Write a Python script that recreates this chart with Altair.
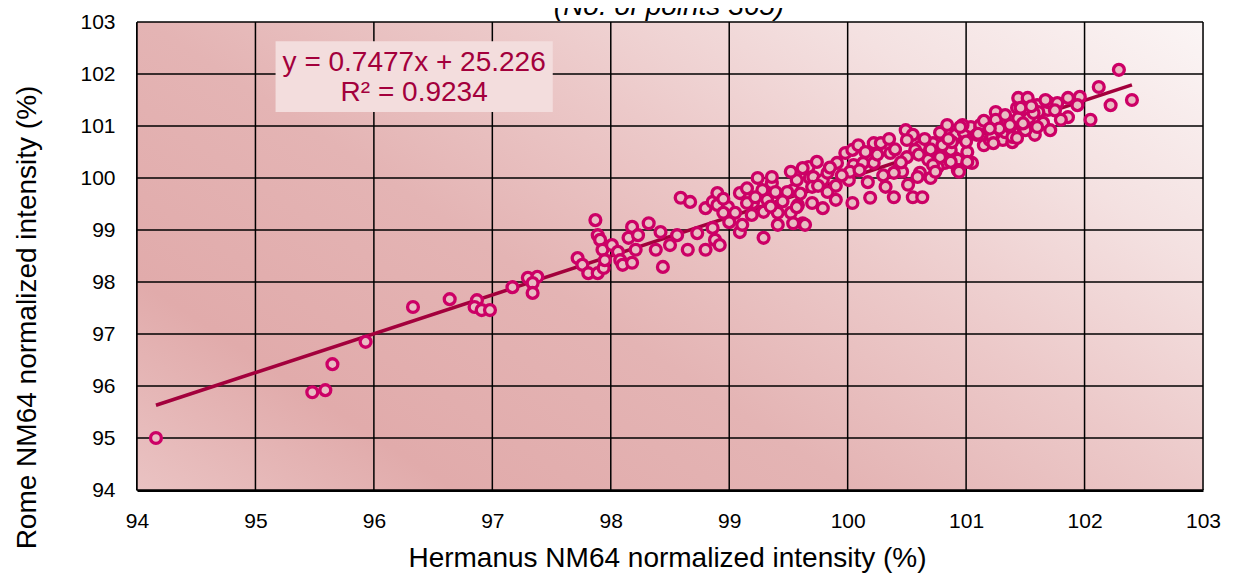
import altair as alt
import pandas as pd

# ---------------- data ----------------
hermanus = [
    94.16, 95.48, 95.59, 95.65, 95.93, 96.33, 96.64, 96.87, 96.85, 96.91, 96.98, 97.17, 97.30, 97.38, 97.34, 97.34,
    97.87, 97.89, 97.91, 97.93, 97.72, 97.76, 97.81, 97.89, 97.94, 97.95, 98.01, 98.06, 98.08, 98.10, 98.18, 98.18,
    98.15, 98.23, 98.32, 98.21, 98.42, 98.38, 98.44, 98.50, 98.56, 98.59, 98.67, 98.65, 98.73, 98.80, 98.80, 98.86,
    98.88, 98.92, 98.86, 98.90, 98.90, 98.99, 98.95, 99.09, 99.09, 99.11, 99.05, 99.20, 99.24, 99.29, 99.29, 99.32,
    99.36, 99.39, 99.41, 99.41, 99.54, 99.57, 99.58, 99.62, 99.68, 99.70, 99.28, 99.15, 99.19, 99.52, 99.64, 99.52,
    99.67, 99.71, 99.74, 99.79, 99.83, 99.79, 99.49, 99.22,
    99.83, 99.90, 99.91, 99.98, 100.04, 100.09, 100.05, 100.01, 100.04, 100.02, 100.17, 100.19, 100.13, 100.22, 100.22,
    100.28, 100.32, 100.36, 100.39, 100.42, 100.46, 100.50, 100.49, 100.55, 100.50, 100.51, 100.55, 100.63, 100.61,
    100.61, 100.68, 100.70, 100.72, 100.78, 100.84, 100.82, 100.91, 100.91, 100.39, 100.57, 100.76, 100.80, 100.87,
    100.93, 100.93, 100.98, 101.05, 101.04, 101.01, 101.15, 101.12, 101.25, 101.26, 101.20, 101.31, 101.33, 101.40,
    101.43, 101.52, 101.58, 101.65, 101.60, 101.69, 101.22, 101.39, 101.44, 101.52, 101.61, 101.69, 101.77, 101.37,
    101.86, 101.86, 101.96, 101.94, 102.05, 102.12, 102.22, 102.29, 102.40, 100.59, 99.70, 99.62, 99.36, 99.54, 99.57,
    100.97, 101.12, 101.09, 100.88, 100.80, 100.78, 100.72, 100.87, 101.01, 100.74, 100.94, 101.23, 101.25, 101.39,
    101.43, 101.37, 101.44, 101.46, 101.53, 101.50, 101.60, 101.67, 101.57, 101.33, 101.71, 101.80,
    99.45, 99.60, 99.35, 99.75, 99.90, 99.95, 100.10, 100.25, 100.30, 100.45, 100.60, 100.65, 100.85, 101.00, 101.10,
    101.15, 101.28, 101.48, 101.55, 101.75, 99.00, 99.15, 98.95, 100.15, 100.35, 100.70, 100.40, 99.85, 100.95, 101.20,
]
rome = [
    95.00, 95.88, 95.92, 96.42, 96.85, 97.52, 97.67, 97.65, 97.52, 97.46, 97.46, 97.90, 98.08, 98.10, 97.98, 97.79,
    99.19, 98.90, 98.81, 98.62, 98.46, 98.33, 98.17, 98.17, 98.27, 98.42, 98.71, 98.58, 98.42, 98.33, 98.37, 99.06,
    98.85, 98.90, 99.13, 98.62, 98.96, 98.62, 98.29, 98.71, 98.90, 99.62, 99.54, 98.62, 98.94, 99.42, 98.62, 99.04,
    98.81, 98.71, 99.54, 99.71, 99.48, 99.44, 99.33, 99.71, 98.96, 99.10, 99.33, 99.52, 100.00, 99.35, 98.85, 99.58,
    99.90, 99.73, 99.33, 99.10, 99.77, 99.96, 99.48, 99.13, 100.00, 99.52, 99.77, 99.52, 99.29, 99.33, 99.10, 100.12,
    100.21, 100.02, 100.31, 99.42, 99.73, 99.96, 99.73, 99.63,
    100.10, 99.58, 100.29, 100.48, 100.54, 100.63, 100.25, 99.96, 99.52, 100.12, 99.92, 99.62, 100.29, 100.29, 100.67,
    100.67, 99.83, 100.48, 99.63, 100.15, 100.12, 100.40, 100.92, 100.83, 100.73, 99.87, 99.63, 99.63, 100.10,
    100.60, 100.35, 100.00, 100.67, 100.87, 101.02, 100.29, 100.38, 100.83, 100.10, 100.54, 100.21, 100.54, 100.54,
    100.35, 100.15, 100.88, 100.29, 100.98, 100.50, 100.63, 100.98, 101.27, 101.06, 100.73, 100.73, 100.88, 100.88,
    101.35, 101.08, 100.83, 101.06, 101.40, 101.31, 100.79, 100.69, 101.54, 101.54, 101.27, 101.46, 101.44, 100.98,
    101.54, 101.17, 101.56, 101.40, 101.12, 101.75, 101.40, 102.08, 101.50, 100.02, 99.83, 100.19, 100.02, 99.13, 99.44,
    101.02, 101.02, 100.83, 100.69, 100.63, 100.40, 100.25, 100.31, 100.31, 100.12, 100.12, 100.67, 101.12, 100.79,
    100.77, 101.02, 101.15, 101.35, 101.15, 100.92, 100.98, 101.50, 101.25, 101.21, 100.92, 101.12,
    99.55, 99.70, 99.45, 99.85, 99.85, 100.05, 100.15, 100.45, 100.05, 100.30, 100.45, 100.75, 100.75, 100.70, 100.85,
    101.10, 100.95, 101.05, 101.38, 101.30, 99.15, 99.80, 99.60, 100.50, 100.75, 100.55, 100.55, 100.20, 100.98, 100.95,
]
x_ticks = [94, 95, 96, 97, 98, 99, 100, 101, 102, 103]
y_ticks = [94, 95, 96, 97, 98, 99, 100, 101, 102, 103]
slope, intercept = 0.7477, 25.226
eq_lines = ["y = 0.7477x + 25.226", "R² = 0.9234"]
title_text = "(No. of points 365)"
x_title = "Hermanus NM64 normalized intensity (%)"
y_title = "Rome NM64 normalized intensity (%)"

# ---------------- layout / style ----------------
W, H = 1066, 468
FONT = "Liberation Sans"
LINE_C = "#a3003c"
PT_STROKE = "#cc0066"
PT_FILL = "#e9bcc3"

xs = alt.Scale(domain=[94, 103], nice=False, zero=False)
ys = alt.Scale(domain=[94, 103], nice=False, zero=False)

x_axis = alt.Axis(
    values=x_ticks, title=x_title, grid=False, ticks=False, tickSize=0,
    labelFontSize=21, labelPadding=20, labelColor="black", labelFont=FONT,
    titleFont=FONT, titleFontSize=28, titleFontWeight="normal", titleColor="black",
    titleX=530, titleY=76, titleBaseline="alphabetic", titleAnchor="middle",
    domainColor="black", domainWidth=3, labelFlush=False,
)
y_axis = alt.Axis(
    values=y_ticks, title=y_title, grid=False, ticks=False, tickSize=0,
    labelFontSize=21, labelPadding=22, labelColor="black", labelFont=FONT,
    titleFont=FONT, titleFontSize=28, titleFontWeight="normal", titleColor="black",
    titleX=-110, titleY=295, titleAngle=-90, titleBaseline="middle", titleAnchor="middle",
    domainColor="black", domainWidth=3, labelFlush=False,
)

one = pd.DataFrame({"a": [0]})

bg = alt.Chart(one).mark_rect(
    fill=alt.Gradient(
        gradient="linear", x1=0, y1=1.064, x2=1.184, y2=0.275,
        stops=[
            alt.GradientStop(offset=0, color="#ebc6c6"),
            alt.GradientStop(offset=0.2, color="#e1abab"),
            alt.GradientStop(offset=0.42, color="#e4b4b4"),
            alt.GradientStop(offset=0.61, color="#ecc9c9"),
            alt.GradientStop(offset=0.8, color="#f4e1e1"),
            alt.GradientStop(offset=1, color="#fbf5f5"),
        ],
    )
).encode(x=alt.value(0), x2=alt.value(W), y=alt.value(0), y2=alt.value(H))

vgrid = alt.Chart(pd.DataFrame({"v": x_ticks})).mark_rule(color="black", strokeWidth=1.5).encode(
    x=alt.X("v:Q", scale=xs, axis=x_axis), y=alt.value(0), y2=alt.value(H)
)
hgrid = alt.Chart(pd.DataFrame({"v": y_ticks})).mark_rule(color="black", strokeWidth=1.5).encode(
    y=alt.Y("v:Q", scale=ys, axis=y_axis), x=alt.value(0), x2=alt.value(W)
)

box = alt.Chart(pd.DataFrame({"x": [95.17], "x2": [97.51], "y": [102.63], "y2": [101.27]})).mark_rect(
    fill="#f3dddd"
).encode(
    x=alt.X("x:Q", scale=xs, axis=x_axis), x2="x2:Q",
    y=alt.Y("y:Q", scale=ys, axis=y_axis), y2="y2:Q",
)

eq = alt.Chart(pd.DataFrame({"t": eq_lines, "x": [96.34, 96.34], "y": [102.22, 101.63]})).mark_text(
    font=FONT, fontSize=28, color=LINE_C, baseline="middle", align="center"
).encode(
    x=alt.X("x:Q", scale=xs, axis=x_axis), y=alt.Y("y:Q", scale=ys, axis=y_axis), text="t:N"
)

xmin, xmax = min(hermanus), max(hermanus)
fit = pd.DataFrame({"x": [xmin, xmax], "y": [slope * xmin + intercept, slope * xmax + intercept]})
line = alt.Chart(fit).mark_line(color=LINE_C, strokeWidth=3.5).encode(
    x=alt.X("x:Q", scale=xs, axis=x_axis), y=alt.Y("y:Q", scale=ys, axis=y_axis)
)

pts = pd.DataFrame({"x": hermanus, "y": rome})
points = alt.Chart(pts).mark_circle(
    size=118, fill=PT_FILL, stroke=PT_STROKE, strokeWidth=3.3, opacity=1, fillOpacity=1
).encode(
    x=alt.X("x:Q", scale=xs, axis=x_axis),
    y=alt.Y("y:Q", scale=ys, axis=y_axis),
)

title = alt.Chart(one).mark_text(
    text=title_text, font=FONT, fontSize=28, fontStyle="italic", color="black",
    align="center", baseline="alphabetic"
).encode(x=alt.value(532), y=alt.value(-7))

chart = alt.layer(bg, vgrid, hgrid, box, eq, line, points, title).properties(
    width=W, height=H,
    autosize=alt.AutoSizeParams(type="none"),
    padding={"left": 129, "top": 14, "right": 34, "bottom": 83},
).configure_view(stroke="black", strokeWidth=2).configure(background="white")

chart.save("out.html", embed_options={"renderer": "svg", "actions": False})
